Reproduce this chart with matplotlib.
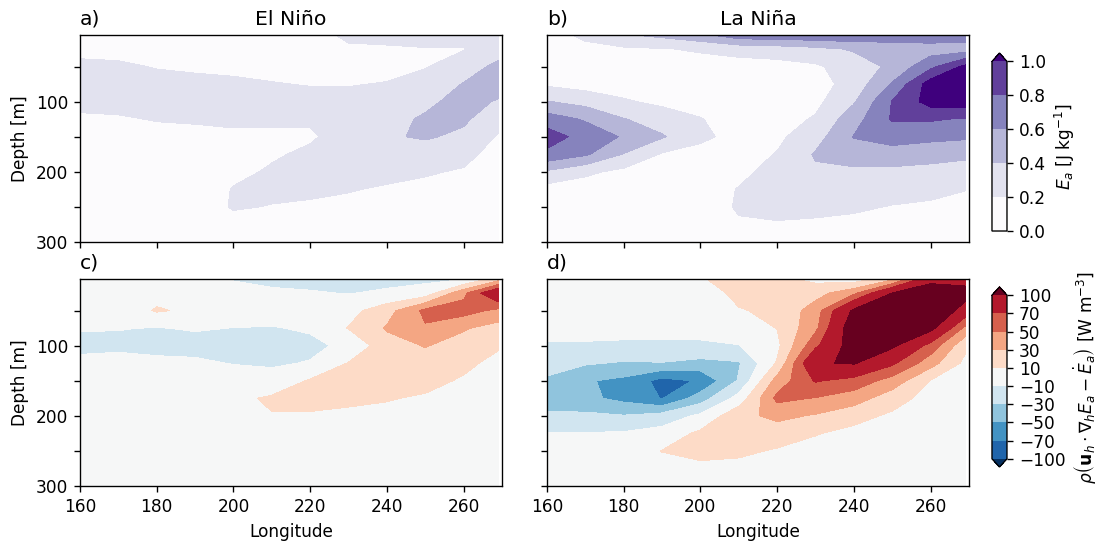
import numpy as np
import matplotlib
matplotlib.use('Agg')
import matplotlib.pyplot as plt
from matplotlib.colors import BoundaryNorm

# grid (longitude in degrees east, depth in metres)
lon = np.array([160, 170, 180, 190, 200, 210, 220, 230, 240, 250, 260, 269])
depth = np.array([5, 25, 50, 75, 100, 125, 150, 175, 200, 225, 250, 275, 300])

# eddy kinetic energy E_a [J/kg], El Nino composite (rows = depth, cols = lon)
ea_nino = np.array([
    [0.10, 0.10, 0.10, 0.10, 0.10, 0.10, 0.12, 0.24, 0.25, 0.28, 0.30, 0.22],
    [0.15, 0.14, 0.12, 0.10, 0.10, 0.10, 0.12, 0.17, 0.18, 0.19, 0.19, 0.30],
    [0.24, 0.23, 0.19, 0.17, 0.15, 0.14, 0.14, 0.14, 0.14, 0.19, 0.30, 0.45],
    [0.28, 0.28, 0.26, 0.25, 0.24, 0.21, 0.19, 0.19, 0.21, 0.27, 0.41, 0.50],
    [0.25, 0.26, 0.27, 0.28, 0.28, 0.27, 0.27, 0.26, 0.28, 0.35, 0.48, 0.38],
    [0.17, 0.18, 0.21, 0.22, 0.23, 0.23, 0.22, 0.28, 0.33, 0.43, 0.43, 0.28],
    [0.12, 0.12, 0.14, 0.15, 0.17, 0.17, 0.18, 0.27, 0.38, 0.42, 0.36, 0.18],
    [0.10, 0.10, 0.10, 0.11, 0.15, 0.18, 0.23, 0.27, 0.30, 0.31, 0.26, 0.12],
    [0.08, 0.08, 0.09, 0.10, 0.16, 0.22, 0.26, 0.25, 0.25, 0.22, 0.18, 0.10],
    [0.07, 0.07, 0.08, 0.09, 0.21, 0.25, 0.24, 0.21, 0.18, 0.15, 0.13, 0.08],
    [0.06, 0.06, 0.07, 0.08, 0.22, 0.19, 0.17, 0.16, 0.12, 0.10, 0.10, 0.07],
    [0.05, 0.05, 0.06, 0.07, 0.12, 0.13, 0.12, 0.10, 0.09, 0.08, 0.07, 0.06],
    [0.05, 0.05, 0.05, 0.06, 0.08, 0.08, 0.08, 0.07, 0.06, 0.06, 0.05, 0.05],
])

# E_a, La Nina composite
ea_nina = np.array([
    [0.12, 0.24, 0.38, 0.45, 0.55, 0.72, 0.74, 0.75, 0.76, 0.76, 0.74, 0.70],
    [0.08, 0.15, 0.17, 0.19, 0.22, 0.27, 0.30, 0.35, 0.42, 0.45, 0.50, 0.50],
    [0.10, 0.10, 0.10, 0.12, 0.13, 0.12, 0.13, 0.17, 0.30, 0.44, 0.75, 1.05],
    [0.17, 0.12, 0.12, 0.10, 0.10, 0.10, 0.10, 0.12, 0.28, 0.62, 1.10, 1.20],
    [0.41, 0.33, 0.22, 0.16, 0.12, 0.08, 0.10, 0.15, 0.38, 0.81, 1.08, 1.10],
    [0.70, 0.58, 0.41, 0.30, 0.21, 0.10, 0.12, 0.22, 0.52, 0.82, 0.82, 0.78],
    [0.90, 0.72, 0.58, 0.42, 0.25, 0.12, 0.16, 0.32, 0.61, 0.68, 0.66, 0.63],
    [0.75, 0.63, 0.39, 0.18, 0.12, 0.12, 0.21, 0.42, 0.50, 0.52, 0.46, 0.45],
    [0.37, 0.24, 0.15, 0.10, 0.10, 0.15, 0.27, 0.37, 0.36, 0.35, 0.35, 0.30],
    [0.12, 0.10, 0.08, 0.08, 0.10, 0.21, 0.30, 0.30, 0.30, 0.28, 0.25, 0.205],
    [0.07, 0.07, 0.07, 0.07, 0.10, 0.22, 0.27, 0.25, 0.23, 0.19, 0.17, 0.15],
    [0.05, 0.05, 0.05, 0.06, 0.09, 0.18, 0.18, 0.17, 0.15, 0.13, 0.12, 0.11],
    [0.04, 0.04, 0.04, 0.05, 0.07, 0.10, 0.10, 0.10, 0.10, 0.10, 0.09, 0.08],
])

# advection minus tendency term [W/m3], El Nino composite
flux_nino = np.array([
    [0, -2, -4, -8, -11, -13, -14, -13, -14, -14, -12, 20],
    [1, 1, 3, 1, -4, -8, -9, -10.5, -8, -2, 45, 95],
    [-2, -3, 12, 6, -2, -2, -2, 3, 22, 55, 58, 45],
    [-9, -9.5, -10.5, -9, -10.2, -11, -8, 11, 32, 48, 32, 22],
    [-14, -13, -14, -14, -15, -15, -14, -6, 22, 31, 22, 12],
    [-6, -5, -7, -8, -10.5, -12, -9, 11, 18, 22, 14, 5],
    [-2, -2, -3, -3, -4, -4, 12, 16, 16, 15, 8, 2],
    [0, 0, 0, 1, 5, 13, 16, 14, 11, 8, 3, 1],
    [0, 0, 0, 1, 4, 9, 8, 6, 6, 3, 1, 0],
    [0, 0, 0, 0, 1, 2, 2, 1, 2, 1, 0, 0],
    [0, 0, 0, 0, 0, 0, 0, 0, 0, 0, 0, 0],
    [0, 0, 0, 0, 0, 0, 0, 0, 0, 0, 0, 0],
    [0, 0, 0, 0, 0, 0, 0, 0, 0, 0, 0, 0],
])

# same term, La Nina composite
flux_nina = np.array([
    [0, 0, 0, 0, 9, 15, 14, 5, -2, 25, 90, 85],
    [0, 0, 0, 0, 2, 14, 12, 22, 45, 100, 120, 115],
    [-1, -1, -1, -1, -1, 9, 13, 40, 105, 140, 135, 85],
    [-4, -4, -4, -4, -4, -2, 10.5, 45, 120, 130, 108, 45],
    [-12, -12, -13, -13, -13, -10.5, 5, 65, 115, 105, 62, 15],
    [-22, -28, -32, -31, -36, -32, 12, 98, 102, 74, 38, 5],
    [-33, -48, -55, -77, -68, -28, 38, 72, 62, 42, 9, 2],
    [-36, -45, -56, -71, -40, -2, 55, 49, 40, 18, 3, 0],
    [-28, -26, -29, -22, -6, 24, 35, 28, 16, 7, 0, 0],
    [-9, -9, -8, -2, 14, 22, 20, 11, 5, 2, 0, 0],
    [-4, -3, -2, 10.5, 15, 14, 8, 4, 2, 0, 0, 0],
    [-1, -1, 0, 3, 6, 4, 2, 1, 0, 0, 0, 0],
    [0, 0, 0, 0, 1, 1, 0, 0, 0, 0, 0, 0],
])

ea_levels = [0.0, 0.2, 0.4, 0.6, 0.8, 1.0]
flux_levels = [-100, -70, -50, -30, -10, 10, 30, 50, 70, 100]

titles = ['El Niño', 'La Niña']
letters = ['a)', 'b)', 'c)', 'd)']

DPI = 122.5
fig = plt.figure(figsize=(1107 / DPI, 546 / DPI), dpi=DPI)

# axes positions in figure fractions [left, bottom, width, height]
w, h = 0.3812, 0.3791
pos = [[0.0723, 0.5568, w, h], [0.4941, 0.5568, w, h],
       [0.0723, 0.1099, w, h], [0.4941, 0.1099, w, h]]
axes = [fig.add_axes(p) for p in pos]

ea_norm = BoundaryNorm(ea_levels, ncolors=256, extend='max')
flux_norm = BoundaryNorm(flux_levels, ncolors=256, extend='both')

fields = [ea_nino, ea_nina, flux_nino, flux_nina]
cfs = []
for i, ax in enumerate(axes):
    if i < 2:
        cf = ax.contourf(lon, depth, fields[i], levels=ea_levels,
                         cmap='Purples', norm=ea_norm, extend='max')
        ax.set_title(titles[i])
    else:
        cf = ax.contourf(lon, depth, fields[i], levels=flux_levels,
                         cmap='RdBu_r', norm=flux_norm, extend='both')
        ax.set_xlabel('Longitude')
    cfs.append(cf)
    ax.set_title(letters[i], loc='left')
    ax.set_xlim(160, 270)
    ax.set_ylim(300, 5)
    ax.set_xticks(np.arange(160, 261, 20))
    ax.set_yticks(np.arange(50, 301, 50))
    if i % 2 == 0:
        ax.set_yticklabels(['', '100', '', '200', '', '300'])
        ax.set_ylabel('Depth [m]')
    else:
        ax.set_yticklabels([])
    if i < 2:
        ax.set_xticklabels([])

# colorbars
cax1 = fig.add_axes([0.8961, 0.5769, 0.01355, 0.326])
cb1 = fig.colorbar(cfs[1], cax=cax1, ticks=ea_levels)
cb1.set_label(r'$E_a$ [J kg$^{-1}$]')

cax2 = fig.add_axes([0.8961, 0.1447, 0.01355, 0.3297])
cb2 = fig.colorbar(cfs[3], cax=cax2, ticks=flux_levels)
cb2.set_label(r'$\rho\left(\mathbf{u}_h \cdot \nabla_h E_a - \dot{E}_a\right)$ [W m$^{-3}$]')

fig.savefig('out.png', dpi=DPI)
